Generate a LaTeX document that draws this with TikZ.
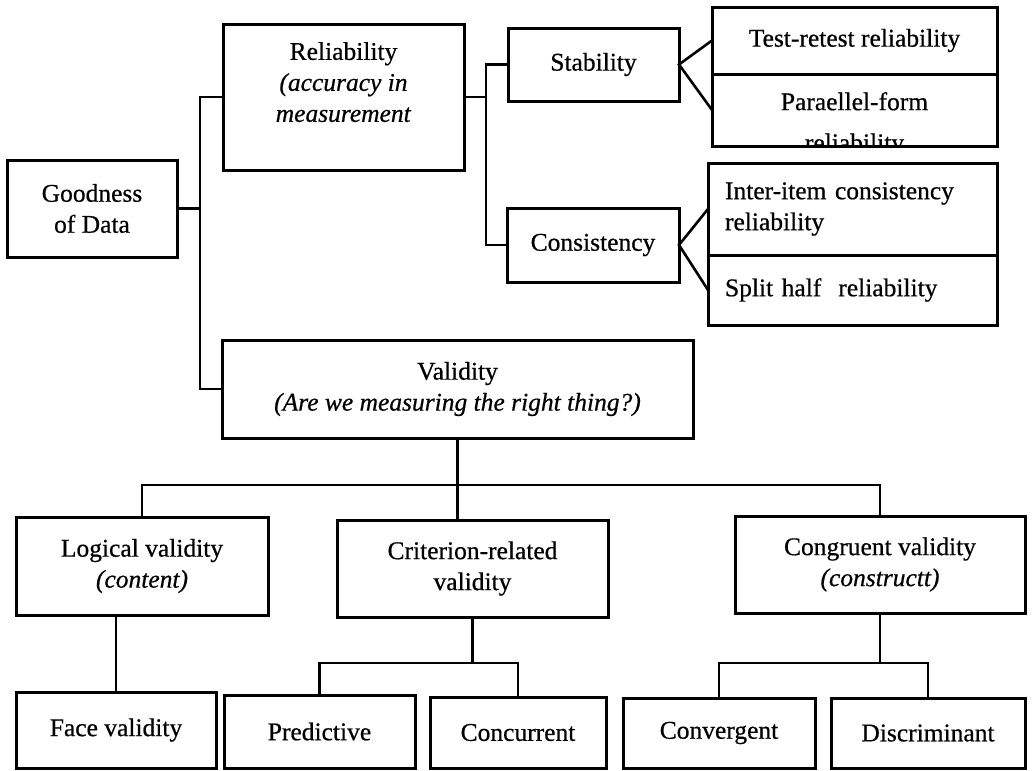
\documentclass[tikz,border=0pt]{standalone}
\usepackage{fontspec}
\setmainfont{Liberation Serif}[FakeBold=0.6]
\usepackage{tikz}
\usetikzlibrary{positioning}
\tikzstyle{block} = [rectangle, anchor=north west, draw=black, line width=3pt, align=center, inner sep=2pt, outer sep=0pt, font=\fontsize{25.5}{31}\selectfont]
\tikzstyle{conn} = [line width=2.6pt]

\begin{document}
\begin{tikzpicture}[x=1pt, y=-1pt]
            \useasboundingbox (0,0) rectangle (1034,771);
            % top half
            \node[block, minimum width=170, minimum height=97] (good) at (7,160) {Goodness\\of Data};
            \node[block, minimum width=241, minimum height=146, text depth=30pt] (rel) at (223,24) {Reliability\\\textit{(accuracy in}\\\textit{measurement}};
            \node[block, minimum width=171, minimum height=73] (stab) at (508,28) {Stability};
            \node[block, minimum width=172, minimum height=74] (cons) at (507,208) {Consistency};
            \node[block, minimum width=285, minimum height=67] (test) at (712,7) {Test-retest reliability};
            \node[block, minimum width=285, minimum height=72] (par) at (712,74) {};
            \begin{scope}
                \clip (par.south west) rectangle (par.north east);
                \node[font=\fontsize{25.5}{31}\selectfont, align=center, anchor=north, inner sep=2pt] (partxt) at ([yshift=-16pt]par.north) {Paraellel-form\\[10pt]reliability};
            \end{scope}
            \draw[block] (par.south west) rectangle (par.north east);
            \node[block, minimum width=289, minimum height=92, align=left, text width=255, inner xsep=17pt] (inter) at (708,163) {Inter-item consistency\\reliability};
            \node[block, minimum width=289, minimum height=70, align=left, text width=255, inner xsep=17pt] (split) at (708,255) {Split half~ reliability};
            \node[block, minimum width=471, minimum height=98] (val) at (222,340) {Validity\\\textit{(Are we measuring the right thing?)}};
            % bottom half
            \node[block, minimum width=252, minimum height=98] (logic) at (16,517) {Logical validity\\\textit{(content)}};
            \node[block, minimum width=271, minimum height=97] (crit) at (337,520) {Criterion-related\\validity};
            \node[block, minimum width=290, minimum height=97] (cong) at (735,516) {Congruent validity\\\textit{(constructt)}};
            \node[block, minimum width=200, minimum height=76] (face) at (16,692) {Face validity};
            \node[block, minimum width=191, minimum height=73] (pred) at (224,695) {Predictive};
            \node[block, minimum width=176, minimum height=71] (conc) at (430,697) {Concurrent};
            \node[block, minimum width=192, minimum height=70] (conv) at (623,698) {Convergent};
            \node[block, minimum width=194, minimum height=70] (disc) at (831,698) {Discriminant};

            \draw[conn] (good.east) -- ++(23,0);
            \draw[conn] (rel.west) -- ++(-23,0) |- (val.west);
            \draw[conn] (rel.east) -- ++(22,0) coordinate (rbus);
            \draw[conn] (stab.west) -| (rbus) |- (cons.west);
            \draw[conn] (test.west) -- (stab.east) -- (par.west);
            \draw[conn] (inter.west) -- (cons.east) -- (split.west);
            \draw[conn] (val.south) -- ++(0,47) coordinate (vbus);
            \draw[conn] (logic.north) |- (vbus) -| (cong.north);
            \draw[conn] (vbus) -- (vbus |- crit.north);
            \draw[conn] (face.north) -- (face.north |- logic.south);
            \draw[conn] (crit.south) -- ++(0,46) coordinate (cbus);
            \draw[conn] (pred.north) |- (cbus) -| (conc.north);
            \draw[conn] (cong.south) -- ++(0,50) coordinate (gbus);
            \draw[conn] (conv.north) |- (gbus) -| (disc.north);
        \end{tikzpicture}
\end{document}
